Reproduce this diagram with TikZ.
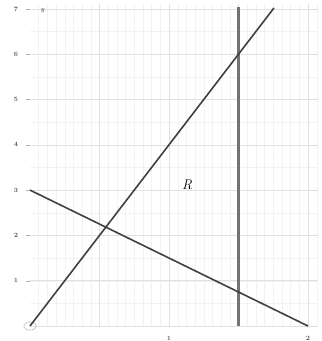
\documentclass[tikz,border=0pt]{standalone}
\begin{document}
\begin{tikzpicture}[x=139pt,y=45.3pt,
  minorgrid/.style={draw=black!5,line width=0.4pt},
  majorgrid/.style={draw=black!12,line width=0.5pt},
  ticklab/.style={font=\fontsize{6.5}{6.5}\selectfont\bfseries,text=black!65,inner sep=0pt},
  plotline/.style={draw=black!75,line width=1.6pt},
  boundline/.style={draw=black!55,line width=2.4pt}]
\useasboundingbox (-0.2158,-0.331) rectangle (2.0935,7.196);
% grid
\foreach \i in {1,...,33} \draw[minorgrid] (\i*0.0625,0) -- (\i*0.0625,7.1);
\foreach \j in {1,...,14} \draw[minorgrid] (0,\j*0.5) -- (2.07,\j*0.5);
\foreach \j in {1,...,7} \draw[majorgrid] (0,\j) -- (2.07,\j);
\foreach \i in {0.5,1,1.5,2} \draw[majorgrid] (\i,0) -- (\i,7.1);
\draw[majorgrid] (0,0) -- (2.07,0);
% ticks and labels
\foreach \j in {1,...,7} {
  \draw[black!30,line width=0.4pt] (-0.03,\j) -- (0,\j);
  \node[ticklab] (ly\j) at (-0.10,\j) {\j};
}
\node[ticklab] (lx1) at (1,-0.27) {1};
\node[ticklab] (lx2) at (2,-0.27) {2};
\node[ticklab,font=\fontsize{6.5}{6.5}\selectfont\itshape\bfseries] (ylab) at (0.09,6.97) {y};
\draw[black!25,line width=0.6pt] (0,0) ellipse (0.045 and 0.09);
% lines
\coordinate (o) at (0,0);
\coordinate (a) at (1.755,7.02);
\coordinate (b) at (0,3);
\coordinate (c) at (2,0);
\coordinate (d) at (1.5,0);
\coordinate (e) at (1.5,7.05);
\draw[boundline] (d) -- (e);
\draw[plotline] (o) -- (a);
\draw[plotline] (b) -- (c);
\node[font=\fontsize{14}{14}\selectfont\itshape] (R) at (1.13,3.12) {R};
\end{tikzpicture}
\end{document}
